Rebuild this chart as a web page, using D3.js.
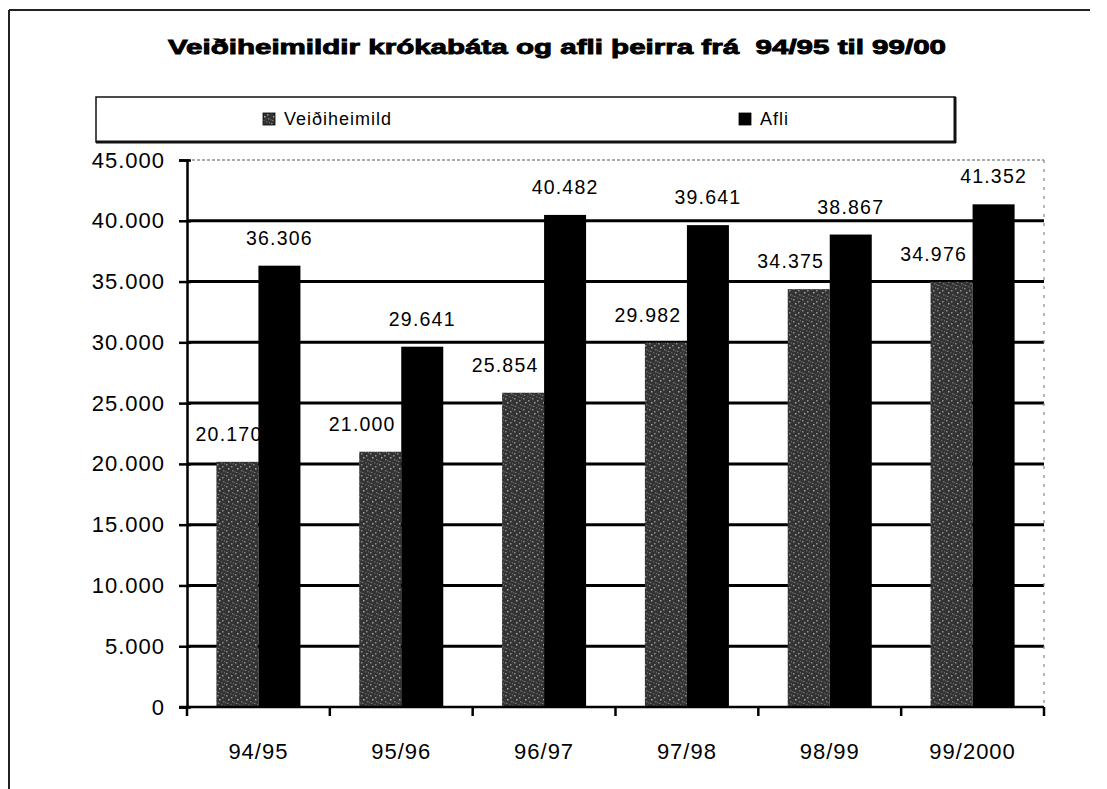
<!DOCTYPE html>
<html>
<head>
<meta charset="utf-8">
<script src="https://cdn.jsdelivr.net/npm/d3@7/dist/d3.min.js"></script>
<style>
  html, body { margin: 0; padding: 0; background: #fff; }
  svg { display: block; font-family: Arial, "Liberation Sans", sans-serif; }
</style>
</head>
<body>
<svg id="chart" width="1107" height="789"></svg>
<script>
// data
const categories = ['94/95', '95/96', '96/97', '97/98', '98/99', '99/2000'];
const seriesNames = ['Veiðiheimild', 'Afli'];
const veidiheimild = [20170, 21000, 25854, 29982, 34375, 34976];
const afli = [36306, 29641, 40482, 39641, 38867, 41352];
const yTicks = [0, 5000, 10000, 15000, 20000, 25000, 30000, 35000, 40000, 45000];
const title = 'Veiðiheimildir krókabáta og afli þeirra frá  94/95 til 99/00';

const svg = d3.select('#chart');
const plot = { left: 187, right: 1044, top: 160, bottom: 707 };

// icelandic number format: 20.170
const fmt = d3.formatLocale({ decimal: ',', thousands: '.', grouping: [3], currency: ['', ''] }).format(',d');

// speckled pattern for the grey series
const defs = svg.append('defs');
const pat = defs.append('pattern')
    .attr('id', 'speckle')
    .attr('patternUnits', 'userSpaceOnUse')
    .attr('width', 9).attr('height', 11);
pat.append('rect').attr('width', 9).attr('height', 11).attr('fill', '#333');
[[1, 2, '#8a8a8a'], [5, 0, '#5a5a5a'], [3, 6, '#a8a8a8'], [7, 8, '#6e6e6e'], [0, 9, '#555'], [6, 4, '#909090'], [2, 10, '#777'], [8, 1, '#666']]
    .forEach(p => pat.append('rect').attr('x', p[0]).attr('y', p[1]).attr('width', 1.5).attr('height', 1.5).attr('fill', p[2]));

// outer frame (top and left only visible)
svg.append('line').attr('x1', 9).attr('x2', 1090).attr('y1', 10).attr('y2', 10)
    .attr('stroke', '#222').attr('stroke-width', 2);
svg.append('line').attr('x1', 9).attr('x2', 9).attr('y1', 10).attr('y2', 789)
    .attr('stroke', '#222').attr('stroke-width', 2);

// title
svg.append('text')
    .attr('x', 557).attr('y', 54)
    .attr('text-anchor', 'middle')
    .attr('font-size', 21).attr('font-weight', 'bold')
    .attr('stroke', '#000').attr('stroke-width', 0.9)
    .style('white-space', 'pre')
    .attr('textLength', 778).attr('lengthAdjust', 'spacingAndGlyphs')
    .text(title);

// legend
const lg = svg.append('g');
lg.append('rect').attr('x', 96).attr('y', 97).attr('width', 859).attr('height', 45)
    .attr('fill', 'none').attr('stroke', '#111').attr('stroke-width', 1.5);
lg.append('line').attr('x1', 96).attr('x2', 956).attr('y1', 142).attr('y2', 142).attr('stroke', '#111').attr('stroke-width', 3);
lg.append('line').attr('x1', 955).attr('x2', 955).attr('y1', 97).attr('y2', 143).attr('stroke', '#111').attr('stroke-width', 3);
const legendItems = [
    { name: seriesNames[0], x: 263, fill: 'url(#speckle)' },
    { name: seriesNames[1], x: 739, fill: '#000' }
];
legendItems.forEach(d => {
    lg.append('rect').attr('x', d.x).attr('y', 113).attr('width', 12).attr('height', 12)
        .attr('fill', d.fill).attr('stroke', '#000').attr('stroke-width', 0.8);
    lg.append('text').attr('x', d.x + 21).attr('y', 125)
        .attr('font-size', 18).attr('letter-spacing', 1).text(d.name);
});

// scales
const y = d3.scaleLinear().domain([0, 45000]).range([plot.bottom, plot.top]);
const x0 = d3.scaleBand().domain(categories).range([plot.left, plot.right]).paddingInner(0).paddingOuter(0);
const x1 = d3.scaleBand().domain(seriesNames).range([0, x0.bandwidth()]).paddingInner(0).paddingOuter(0.7);

// gridlines
svg.append('g')
    .selectAll('line')
    .data(yTicks.filter(t => t > 0 && t < 45000))
    .join('line')
    .attr('x1', plot.left).attr('x2', plot.right)
    .attr('y1', d => y(d)).attr('y2', d => y(d))
    .attr('stroke', '#000').attr('stroke-width', 3);

// top and right dotted borders of the plot area
svg.append('line').attr('x1', plot.left).attr('x2', plot.right).attr('y1', y(45000)).attr('y2', y(45000))
    .attr('stroke', '#555').attr('stroke-width', 1.2).attr('stroke-dasharray', '3,2');
svg.append('line').attr('x1', plot.right).attr('x2', plot.right).attr('y1', y(45000)).attr('y2', plot.bottom)
    .attr('stroke', '#888').attr('stroke-width', 1.2).attr('stroke-dasharray', '3,6');

// y axis
const yAxis = svg.append('g')
    .attr('transform', `translate(${plot.left},0)`)
    .call(d3.axisLeft(y).tickValues(yTicks).tickFormat(fmt).tickSize(8).tickPadding(14));
yAxis.select('.domain').attr('stroke-width', 2.5);
yAxis.selectAll('.tick line').attr('stroke-width', 2.5).attr('x2', -8).attr('x1', 4);
yAxis.selectAll('.tick text')
    .attr('font-size', 22).attr('letter-spacing', 1).attr('fill', '#000')
    .attr('font-family', 'Arial, "Liberation Sans", sans-serif');

// x axis
const xAxis = svg.append('g')
    .attr('transform', `translate(0,${plot.bottom})`)
    .call(d3.axisBottom(x0).tickSize(0).tickPadding(36));
xAxis.select('.domain').remove();
xAxis.selectAll('.tick text')
    .attr('font-size', 22).attr('letter-spacing', 1).attr('fill', '#000')
    .attr('font-family', 'Arial, "Liberation Sans", sans-serif');
const bounds = categories.map(c => x0(c)).concat([plot.right]);
svg.append('g').selectAll('line').data(bounds).join('line')
    .attr('x1', d => d).attr('x2', d => d)
    .attr('y1', plot.bottom).attr('y2', plot.bottom + 9)
    .attr('stroke', '#000').attr('stroke-width', 2.5);

// bars and labels, series by series so the black bars cover the grey labels
const series = [
    { name: seriesNames[0], values: veidiheimild, fill: 'url(#speckle)', labelShift: -18 },
    { name: seriesNames[1], values: afli, fill: '#000', labelShift: 0 }
];
series.forEach(s => {
    const g = svg.append('g');
    g.selectAll('rect')
        .data(s.values)
        .join('rect')
        .attr('x', (d, i) => x0(categories[i]) + x1(s.name))
        .attr('y', d => y(d))
        .attr('width', x1.bandwidth())
        .attr('height', d => y(0) - y(d))
        .attr('fill', s.fill);
    g.selectAll('text')
        .data(s.values)
        .join('text')
        .attr('x', (d, i) => Math.max(plot.left + 42,
            x0(categories[i]) + x1(s.name) + x1.bandwidth() / 2 + s.labelShift))
        .attr('y', d => y(d) - 21)
        .attr('text-anchor', 'middle')
        .attr('font-size', 19.5).attr('letter-spacing', 1.2)
        .text(d => fmt(d));
});

// x axis line on top of bars
svg.append('line').attr('x1', plot.left - 8).attr('x2', plot.right).attr('y1', plot.bottom).attr('y2', plot.bottom)
    .attr('stroke', '#000').attr('stroke-width', 2.5);
</script>
</body>
</html>
